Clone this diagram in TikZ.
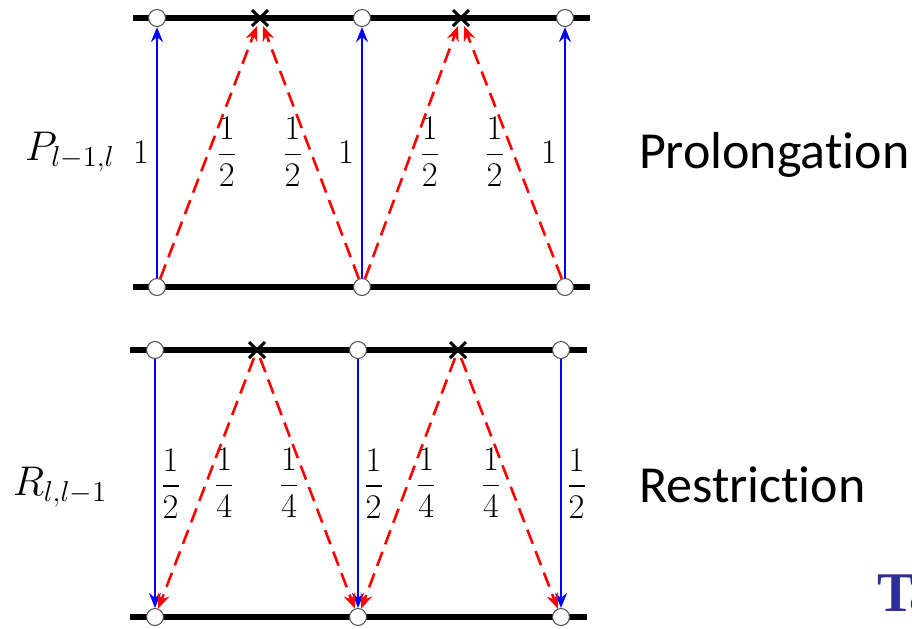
\documentclass[tikz,border=0pt]{standalone}
\usepackage{amsmath}
\usepackage{fontspec}
\newfontfamily\slidefont{Carlito}
\newfontfamily\serifslide{Liberation Serif}
\usetikzlibrary{arrows.meta,shapes.misc}
\definecolor{mblue}{RGB}{0,0,255}
\definecolor{mred}{RGB}{255,0,0}
\definecolor{tblue}{RGB}{46,46,150}
% break the t-i ligature of Carlito
\newcommand{\tI}{t\kern0pt i}
\tikzset{
  mesh/.style={line width=2.6pt,draw=black},
  cpt/.style={circle,draw=black!70,fill=white,line width=0.5pt,minimum size=8.5pt,inner sep=0pt},
  xpt/.style={cross out,draw=black,line width=1.5pt,minimum size=6.5pt,inner sep=0pt},
  inj/.style={-{Stealth[length=7.5pt,width=6pt,inset=2.5pt]},line width=1.3pt,draw=mblue},
  intp/.style={-{Stealth[length=7.5pt,width=6pt,inset=2.5pt]},line width=1.3pt,draw=mred,dash pattern=on 7.5pt off 4pt},
  wt/.style={font=\fontsize{16}{18}\selectfont},
  opname/.style={font=\fontsize{22}{26}\selectfont},
  side/.style={font=\slidefont\fontsize{26}{30}\selectfont,anchor=west},
}

\begin{document}
\begin{tikzpicture}[x=0.5pt,y=-0.5pt]
  \useasboundingbox (0,0) rectangle (912,628);

  % prolongation: coarse grid below, fine grid above
  \draw[mesh] (133,18) -- (590,18);
  \draw[mesh] (133,287) -- (590,287);
  \node[cpt] (pt1) at (157,18) {};
  \node[xpt] (px1) at (260,18) {};
  \node[cpt] (pt2) at (362,18) {};
  \node[xpt] (px2) at (461,18) {};
  \node[cpt] (pt3) at (565,18) {};
  \node[cpt] (pb1) at (157,287) {};
  \node[cpt] (pb2) at (362,287) {};
  \node[cpt] (pb3) at (565,287) {};

  \draw[inj] (pb1) -- node[wt,left] {$1$} (pt1);
  \draw[inj] (pb2) -- node[wt,left] {$1$} (pt2);
  \draw[inj] (pb3) -- node[wt,left] {$1$} (pt3);
  \draw[intp] (pb1) -- node[wt,right] {$\dfrac{1}{2}$} (px1);
  \draw[intp] (pb2) -- node[wt,left] {$\dfrac{1}{2}$} (px1);
  \draw[intp] (pb2) -- node[wt,right] {$\dfrac{1}{2}$} (px2);
  \draw[intp] (pb3) -- node[wt,left] {$\dfrac{1}{2}$} (px2);

  % restriction: fine grid above, coarse grid below
  \draw[mesh] (130,350) -- (587,350);
  \draw[mesh] (130,617) -- (587,617);
  \node[cpt] (rt1) at (155,350) {};
  \node[xpt] (rx1) at (257,350) {};
  \node[cpt] (rt2) at (358,350) {};
  \node[xpt] (rx2) at (458,350) {};
  \node[cpt] (rt3) at (561,350) {};
  \node[cpt] (rb1) at (155,617) {};
  \node[cpt] (rb2) at (358,617) {};
  \node[cpt] (rb3) at (561,617) {};

  \draw[inj] (rt1) -- node[wt,right,inner sep=2pt] {$\dfrac{1}{2}$} (rb1);
  \draw[inj] (rt2) -- node[wt,right,inner sep=2pt] {$\dfrac{1}{2}$} (rb2);
  \draw[inj] (rt3) -- node[wt,right,inner sep=2pt] {$\dfrac{1}{2}$} (rb3);
  \draw[intp] (rx1) -- node[wt,right] {$\dfrac{1}{4}$} (rb1);
  \draw[intp] (rx1) -- node[wt,left] {$\dfrac{1}{4}$} (rb2);
  \draw[intp] (rx2) -- node[wt,right] {$\dfrac{1}{4}$} (rb2);
  \draw[intp] (rx2) -- node[wt,left] {$\dfrac{1}{4}$} (rb3);

  \node[opname] (pname) at (70,152) {$P_{l-1,l}$};
  \node[opname] (rname) at (60,487) {$R_{l,l-1}$};
  \node[side] (prol) at (632,155) {Prolonga\tI on};
  \node[side] (rest) at (632,485) {Restric\tI on};
  \node[anchor=base west,inner sep=0pt,text=tblue,font=\serifslide\bfseries\fontsize{28}{32}\selectfont] (cut) at (877,611) {Ta};
\end{tikzpicture}
\end{document}
